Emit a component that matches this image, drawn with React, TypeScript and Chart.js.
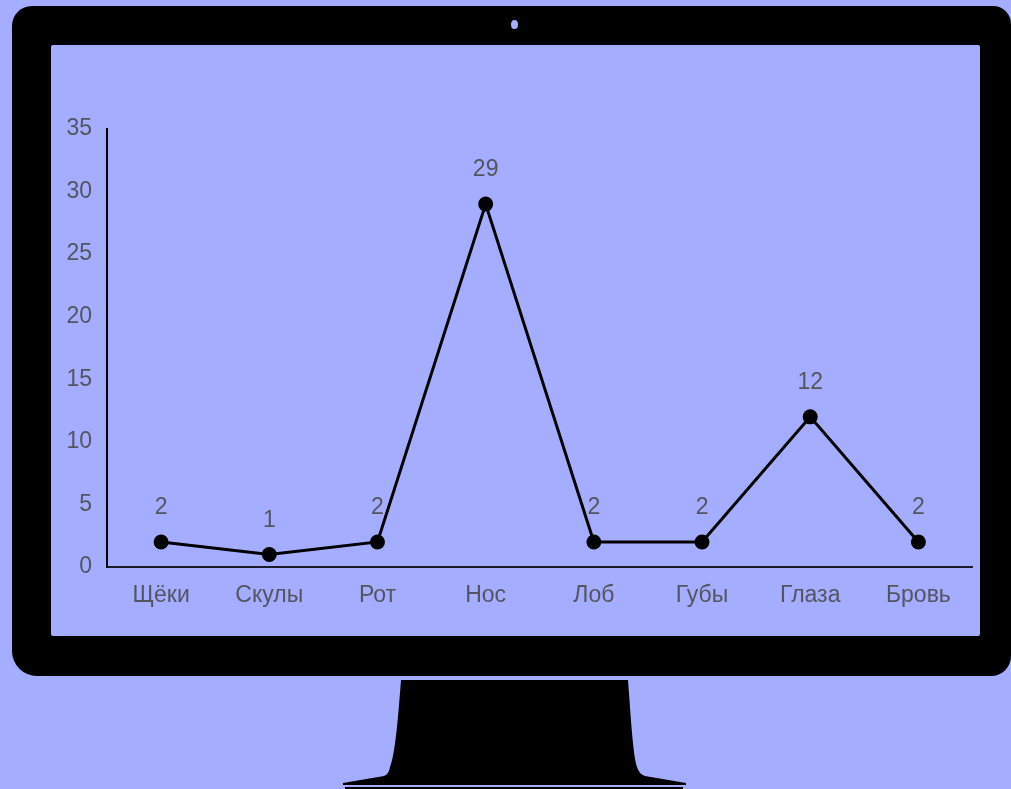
import React, { useEffect, useRef } from "react";
import { Chart, registerables } from "chart.js";

Chart.register(...registerables);

const categories = ["Щёки", "Скулы", "Рот", "Нос", "Лоб", "Губы", "Глаза", "Бровь"];
const values = [2, 1, 2, 29, 2, 2, 12, 2];
const yMin = 0;
const yMax = 35;
const yStep = 5;

const BG = "#a4adff";
const TEXT = "#545460";
const FONT = "'Liberation Sans', Arial, sans-serif";
const FONT_SIZE = 23;

const dataLabelPlugin = {
  id: "dataLabels",
  afterDatasetsDraw(chart: any) {
    const ctx = chart.ctx;
    const meta = chart.getDatasetMeta(0);
    ctx.save();
    ctx.font = `${FONT_SIZE}px ${FONT}`;
    ctx.fillStyle = TEXT;
    ctx.textAlign = "center";
    ctx.textBaseline = "middle";
    meta.data.forEach((pt: any, i: number) => {
      ctx.fillText(String(values[i]), pt.x, pt.y - 34);
    });
    ctx.restore();
  },
};

export default function App() {
  const canvasRef = useRef<HTMLCanvasElement | null>(null);

  useEffect(() => {
    if (!canvasRef.current) return;
    const chart = new Chart(canvasRef.current, {
      type: "line",
      data: {
        labels: categories,
        datasets: [
          {
            data: values,
            borderColor: "#000",
            borderWidth: 3,
            pointRadius: 7.5,
            pointHoverRadius: 7.5,
            pointBackgroundColor: "#000",
            pointBorderColor: "#000",
            pointBorderWidth: 0,
            tension: 0,
            fill: false,
          },
        ],
      },
      options: {
        animation: false,
        responsive: false,
        maintainAspectRatio: false,
        events: [],
        layout: { padding: { left: 0, right: 7, top: 84, bottom: 0 } },
        plugins: {
          legend: { display: false },
          tooltip: { enabled: false },
          title: { display: false },
        },
        scales: {
          x: {
            offset: true,
            grid: { display: false, drawTicks: false },
            border: { display: true, color: "#1a1a2a", width: 2 },
            ticks: {
              color: TEXT,
              font: { family: FONT, size: FONT_SIZE },
              padding: 15,
              maxRotation: 0,
              autoSkip: false,
            },
            afterFit: (scale: any) => {
              scale.height = 69;
            },
          },
          y: {
            min: yMin,
            max: yMax,
            grid: { display: false, drawTicks: false },
            border: { display: true, color: "#000", width: 2 },
            ticks: {
              stepSize: yStep,
              color: TEXT,
              font: { family: FONT, size: FONT_SIZE },
              padding: 15,
            },
            afterFit: (scale: any) => {
              scale.width = 56;
            },
          },
        },
      },
      plugins: [dataLabelPlugin],
    });
    return () => chart.destroy();
  }, []);

  return (
    <div
      style={{
        position: "fixed",
        left: 0,
        top: 0,
        width: 1011,
        height: 789,
        background: BG,
        overflow: "hidden",
      }}
    >
      {/* monitor body */}
      <div
        style={{
          position: "absolute",
          left: 12,
          top: 6,
          width: 999,
          height: 670,
          background: "#000",
          borderRadius: "20px 18px 20px 25px",
        }}
      />
      {/* camera */}
      <div
        style={{
          position: "absolute",
          left: 511,
          top: 20,
          width: 7,
          height: 9,
          borderRadius: "50%",
          background: BG,
        }}
      />
      {/* screen */}
      <div
        style={{
          position: "absolute",
          left: 51,
          top: 45,
          width: 929,
          height: 591,
          background: BG,
          borderRadius: 2,
        }}
      >
        <canvas ref={canvasRef} width={929} height={591} style={{ display: "block", width: 929, height: 591 }} />
      </div>
      {/* stand */}
      <svg
        width={1011}
        height={789}
        style={{ position: "absolute", left: 0, top: 0 }}
      >
        <path
          d="M401,680 L628,680 C631,720 633,755 637,767 Q639,774 645,776 L686,783 L686,785 L343,785 L343,783 L384,776 Q389,774 390,767 C395,755 398,720 401,680 Z"
          fill="#000"
        />
        <rect x={345} y={787} width={338} height={3} fill="#000" />
      </svg>
    </div>
  );
}
